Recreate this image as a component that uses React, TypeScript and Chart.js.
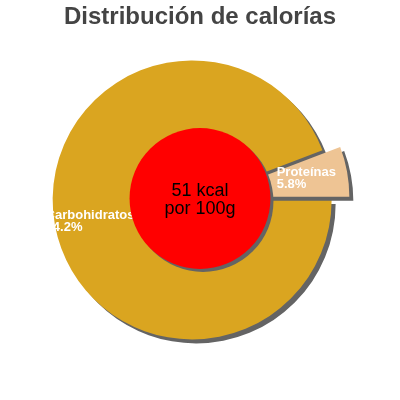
import { useEffect, useRef } from "react"
import { Chart, registerables } from "chart.js"

Chart.register(...registerables)

const TITLE = "Distribución de calorías"
const categories = ["Carbohidratos", "Proteínas"]
const percents = [94.2, 5.8]
const sliceColors = ["#DAA520", "#EEC494"]
const exploded = [false, true]
const centerLines = ["51 kcal", "por 100g"]

const FONT = "'Liberation Sans', Arial, sans-serif"
const SHADOW = "#646464"
const EXPLODE = 18
const PIE_SHIFT = 8
// where each slice label sits along its bisector, as a share of the radius
const LABEL_RADIUS = [1.068, 0.487]

const explodePlugin = {
  id: "explode",
  afterDatasetUpdate(chart: any, args: any) {
    const arcs = args.meta.data
    let dx = 0
    let dy = 0
    arcs.forEach((arc: any, i: number) => {
      if (!exploded[i]) return
      const mid = (arc.startAngle + arc.endAngle) / 2
      dx = Math.cos(mid)
      dy = Math.sin(mid)
    })
    arcs.forEach((arc: any, i: number) => {
      const k = exploded[i] ? EXPLODE - PIE_SHIFT : -PIE_SHIFT
      arc.x += dx * k
      arc.y += dy * k
    })
  },
}

const decorPlugin = {
  id: "decor",
  beforeDatasetsDraw(chart: any) {
    const ctx = chart.ctx
    ctx.save()
    ctx.shadowColor = SHADOW
    ctx.shadowOffsetX = 4
    ctx.shadowOffsetY = 4
    ctx.shadowBlur = 0
  },
  afterDatasetsDraw(chart: any) {
    const ctx = chart.ctx
    ctx.restore()

    const { left, right, top, bottom } = chart.chartArea
    const cx = (left + right) / 2
    const cy = (top + bottom) / 2
    const arcs = chart.getDatasetMeta(0).data
    const r = arcs[0].outerRadius

    // slice labels
    ctx.save()
    ctx.fillStyle = "#ffffff"
    ctx.font = `bold 13px ${FONT}`
    ctx.textAlign = "left"
    ctx.textBaseline = "alphabetic"
    arcs.forEach((arc: any, i: number) => {
      const mid = (arc.startAngle + arc.endAngle) / 2
      const px = arc.x + Math.cos(mid) * r * LABEL_RADIUS[i]
      const py = arc.y + Math.sin(mid) * r * LABEL_RADIUS[i]
      ctx.fillText(categories[i], px, py - 8)
      ctx.fillText(`${percents[i]}%`, px, py + 4)
    })
    ctx.restore()

    // centre disc
    ctx.save()
    ctx.shadowColor = SHADOW
    ctx.shadowOffsetX = 3
    ctx.shadowOffsetY = 3
    ctx.shadowBlur = 0
    ctx.beginPath()
    ctx.arc(cx, cy, r * 0.505, 0, Math.PI * 2)
    ctx.fillStyle = "#ff0000"
    ctx.fill()
    ctx.restore()

    ctx.save()
    ctx.fillStyle = "#000000"
    ctx.font = `18px ${FONT}`
    ctx.textAlign = "center"
    ctx.textBaseline = "alphabetic"
    const lh = 18
    const startY = cy - (lh * (centerLines.length - 1)) / 2 + 6.5
    centerLines.forEach((line, i) => ctx.fillText(line, cx, startY + i * lh))
    ctx.restore()
  },
}

export default function App() {
  const chartRef = useRef<HTMLCanvasElement>(null)
  const chartInstance = useRef<Chart | null>(null)

  useEffect(() => {
    if (!chartRef.current) return
    if (chartInstance.current) chartInstance.current.destroy()

    const ctx = chartRef.current.getContext("2d")
    if (!ctx) return

    chartInstance.current = new Chart(ctx, {
      type: "pie",
      data: {
        labels: categories,
        datasets: [
          {
            data: percents,
            backgroundColor: sliceColors,
            borderWidth: 0,
            hoverOffset: 0,
          },
        ],
      },
      options: {
        animation: false,
        responsive: true,
        maintainAspectRatio: false,
        events: [],
        rotation: 90,
        radius: 139.5,
        layout: { padding: { top: 0, bottom: 34.8, left: 0, right: 0 } },
        plugins: {
          legend: { display: false },
          tooltip: { enabled: false },
          title: {
            display: true,
            text: TITLE,
            color: "#444444",
            font: { family: FONT, size: 24, weight: "bold", lineHeight: 1.2 },
            padding: { top: 3, bottom: 0 },
          },
        },
      } as any,
      plugins: [explodePlugin, decorPlugin],
    })

    return () => {
      if (chartInstance.current) {
        chartInstance.current.destroy()
        chartInstance.current = null
      }
    }
  }, [])

  return (
    <div style={{ position: "absolute", left: 0, top: 0, width: "400px", height: "400px" }}>
      <canvas ref={chartRef} />
    </div>
  )
}
